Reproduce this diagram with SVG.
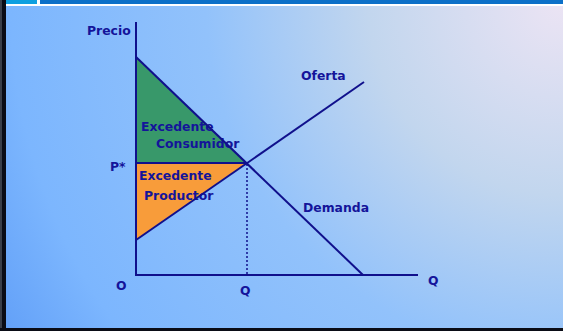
<svg xmlns="http://www.w3.org/2000/svg" width="563" height="331" viewBox="0 0 563 331">
<defs>
<radialGradient id="bg" cx="563" cy="0" r="650" gradientUnits="userSpaceOnUse">
<stop offset="0" stop-color="#ece4f4"/>
<stop offset="0.3" stop-color="#c2d6ee"/>
<stop offset="0.55" stop-color="#92c2fb"/>
<stop offset="0.85" stop-color="#7cb6fe"/>
<stop offset="1" stop-color="#62a0f8"/>
</radialGradient>
</defs>
<style>
.ax{stroke:#10108c;stroke-width:2;fill:none;stroke-linecap:butt}
.lbl{font-family:"DejaVu Sans",Verdana,sans-serif;font-weight:bold;font-size:12.4px;fill:#14149a}
</style>
<rect x="0" y="0" width="563" height="331" fill="url(#bg)"/>
<rect x="0" y="0" width="563" height="6" fill="#ffffff"/>
<rect x="6" y="0" width="31" height="4" fill="#0ea0e0"/>
<rect x="40" y="0" width="523" height="4" fill="#0c70c8"/>
<rect x="0" y="0" width="2" height="331" fill="#3a3f4a"/>
<rect x="2" y="0" width="4" height="331" fill="#0a0c16"/>
<rect x="0" y="328" width="563" height="3" fill="#0a0c16"/>
<g id="consumer-surplus">
<polygon points="136,57 247,163 136,163" fill="#38986a"/>
<text class="lbl" x="141" y="131">Excedente</text>
<text class="lbl" x="156" y="148">Consumidor</text>
</g>
<g id="producer-surplus">
<polygon points="136,163 247,163 136,240" fill="#f89c3a"/>
<text class="lbl" x="139" y="180">Excedente</text>
<text class="lbl" x="144" y="200">Productor</text>
</g>
<g id="connectors">
<line class="ax" x1="136" y1="22" x2="136" y2="276"/>
<line class="ax" x1="135" y1="275" x2="418" y2="275"/>
<line class="ax" x1="136" y1="163" x2="247" y2="163"/>
<line class="ax" x1="136" y1="57" x2="363" y2="275"/>
<line class="ax" x1="136" y1="240" x2="364" y2="82"/>
<line x1="247" y1="164" x2="247" y2="274" stroke="#10108c" stroke-width="1.5" stroke-dasharray="2 2"/>
</g>
<g id="labels">
<text class="lbl" x="87" y="35">Precio</text>
<text class="lbl" x="301" y="80">Oferta</text>
<text class="lbl" x="303" y="212">Demanda</text>
<text class="lbl" x="110" y="171">P*</text>
<text class="lbl" x="116" y="290">O</text>
<text class="lbl" x="240" y="295">Q</text>
<text class="lbl" x="428" y="285">Q</text>
</g>
</svg>
